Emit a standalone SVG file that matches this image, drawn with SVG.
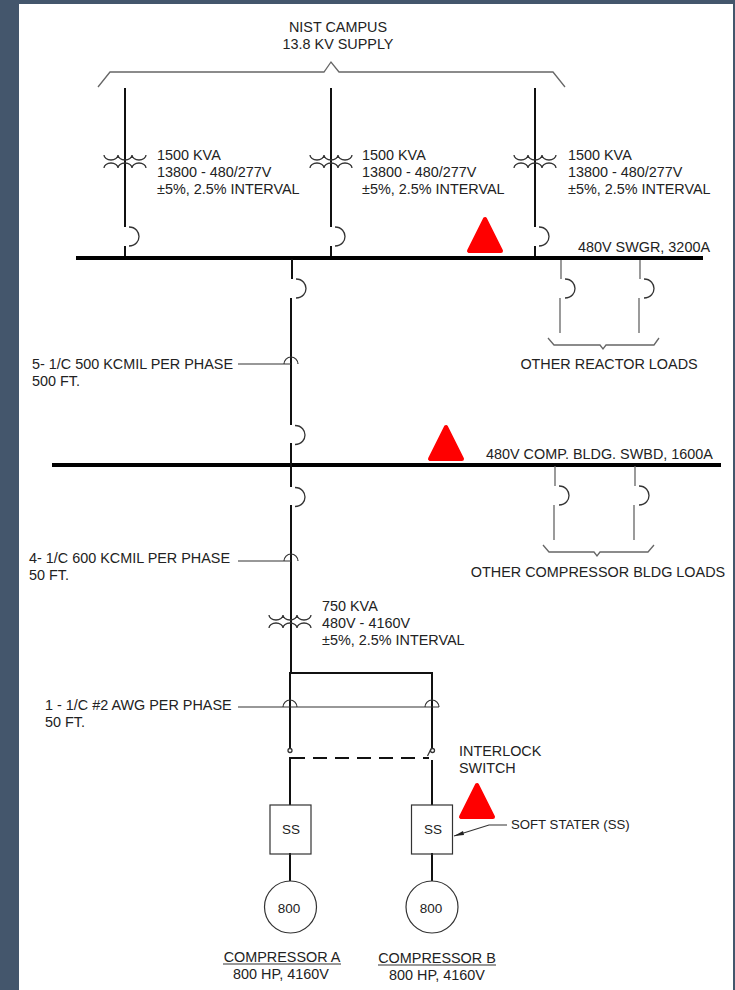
<svg xmlns="http://www.w3.org/2000/svg" width="735" height="990" viewBox="0 0 735 990">
<style>
text{font-family:"Liberation Sans",Arial,sans-serif;font-size:14.400px;fill:#222}
.w{fill:none;stroke:#111;stroke-width:2}
.t{fill:none;stroke:#333;stroke-width:1.300}
.g{fill:none;stroke:#666;stroke-width:1.300}
.bus{stroke:#000;stroke-width:4;fill:none}
.n{fill:none;stroke:#333;stroke-width:1.200}
.tri{fill:#f00;stroke:#f00;stroke-width:4;stroke-linejoin:round}
</style>
<defs>
<g id="xf"><path class="t" d="M-21 155a7 5 0 0 0 14 0a7 5 0 0 0 14 0a7 5 0 0 0 14 0M-21 168a7 5 0 0 1 14 0a7 5 0 0 1 14 0a7 5 0 0 1 14 0"/></g>
<path id="cb" class="t" d="M4-9.500C11-9.500 14-4 14 0S11 9.500 4 9.500"/>
<path id="hop" class="n" d="M-7 0A7 7 0 0 1 7 0"/>
</defs>
<rect width="735" height="990" fill="#44566c"/>
<rect x="19" y="4" width="714" height="986" fill="#fff"/>
<g id="connectors">
<path class="g" d="M98 87L110 72H324L331 62L339 72H553L565 87"/>
<path class="w" d="M125 88V227M125 246V258M331 88V227M331 246V258M535 88V227M535 246V258"/>
<path class="bus" d="M76 258H703M52 465H721"/>
<path class="w" d="M292 259V279M291 298V425M291 443V487M291 505V673M290 673V748M290 757V805M290 853V881"/>
<path class="w" d="M289 673H432V748M432 760V805M432 853V881"/>
<path class="w" stroke-dasharray="14 8" d="M291 758H429"/>
<path class="t" d="M427.500 756L431 749"/>
<circle class="t" cx="290" cy="750.500" r="2"/><circle class="t" cx="432.500" cy="750.500" r="2"/>
<path class="g" d="M561 260V279M560 298V333M640 260V279M639 298V333"/>
<path class="g" d="M548 338L554 345H600L603 349L606 345H654L659 338"/>
<path class="g" d="M555 466V486M554 505V540M635 466V486M634 505V540"/>
<path class="g" d="M543 545L549 552H594L597 556L600 552H648L654 545"/>
<path class="n" d="M238 364H291M238 561H291M238 707H439"/>
<path class="n" d="M454 836L489 825H507"/>
<path fill="#222" d="M454 836L463 831L464 835Z"/>
<g transform="translate(125 236.500)"><use href="#cb"/></g>
<g transform="translate(331 236.500)"><use href="#cb"/></g>
<g transform="translate(535 236.500)"><use href="#cb"/></g>
<g transform="translate(292 288.500)"><use href="#cb"/></g>
<g transform="translate(291 435)"><use href="#cb"/></g>
<g transform="translate(291 497)"><use href="#cb"/></g>
<g transform="translate(561 288.500)"><use href="#cb"/></g>
<g transform="translate(640 288.500)"><use href="#cb"/></g>
<g transform="translate(555 495.500)"><use href="#cb"/></g>
<g transform="translate(635 495.500)"><use href="#cb"/></g>
<use href="#hop" x="291" y="364"/><use href="#hop" x="291" y="561"/><use href="#hop" x="290" y="707"/><use href="#hop" x="432" y="707"/>
</g>
<g id="supply"><text x="338" y="32" text-anchor="middle">NIST CAMPUS</text><text x="338" y="49" text-anchor="middle">13.8 KV SUPPLY</text></g>
<g id="tx1"><use href="#xf" x="125"/><text x="157" y="160">1500 KVA</text><text x="157" y="177">13800 - 480/277V</text><text x="157" y="194">±5%, 2.5% INTERVAL</text></g>
<g id="tx2"><use href="#xf" x="331"/><text x="362" y="160">1500 KVA</text><text x="362" y="177">13800 - 480/277V</text><text x="362" y="194">±5%, 2.5% INTERVAL</text></g>
<g id="tx3"><use href="#xf" x="535"/><text x="568" y="160">1500 KVA</text><text x="568" y="177">13800 - 480/277V</text><text x="568" y="194">±5%, 2.5% INTERVAL</text></g>
<g id="tri1"><path class="tri" d="M485 219L469 251H501Z"/></g>
<g id="swgr"><text x="578" y="252">480V SWGR, 3200A</text></g>
<g id="reactor-loads"><text x="609" y="369" text-anchor="middle">OTHER REACTOR LOADS</text></g>
<g id="cable1"><text x="32" y="369">5- 1/C 500 KCMIL PER PHASE</text><text x="32" y="386">500 FT.</text></g>
<g id="tri2"><path class="tri" d="M446 427L430 459H462Z"/></g>
<g id="swbd"><text x="486" y="459">480V COMP. BLDG. SWBD, 1600A</text></g>
<g id="comp-loads"><text x="598" y="577" text-anchor="middle">OTHER COMPRESSOR BLDG LOADS</text></g>
<g id="cable2"><text x="29" y="563">4- 1/C 600 KCMIL PER PHASE</text><text x="29" y="580">50 FT.</text></g>
<g id="tx4"><use href="#xf" x="290" y="460"/><text x="322" y="611">750 KVA</text><text x="322" y="628">480V - 4160V</text><text x="322" y="645">±5%, 2.5% INTERVAL</text></g>
<g id="cable3"><text x="45" y="710">1 - 1/C #2 AWG PER PHASE</text><text x="45" y="727">50 FT.</text></g>
<g id="interlock"><text x="459" y="756">INTERLOCK</text><text x="459" y="773">SWITCH</text></g>
<g id="ssa"><rect class="n" x="270" y="805" width="41" height="49"/><text x="291" y="834" text-anchor="middle" style="font-size:13.500px">SS</text></g>
<g id="ssb"><rect class="n" x="411.500" y="805" width="41" height="49"/><text x="433" y="834" text-anchor="middle" style="font-size:13.500px">SS</text></g>
<g id="tri3"><path class="tri" d="M477 785L461 817H493Z"/></g>
<g id="ss-label"><text x="511" y="829" style="font-size:13.200px">SOFT STATER (SS)</text></g>
<g id="motora"><circle class="n" cx="290.500" cy="907" r="26"/><text x="289" y="913" text-anchor="middle" style="font-size:13.500px">800</text></g>
<g id="motorb"><circle class="n" cx="432" cy="907" r="26"/><text x="431" y="913" text-anchor="middle" style="font-size:13.500px">800</text></g>
<g id="compa"><text x="282" y="962" text-anchor="middle">COMPRESSOR A</text><path class="n" d="M223 964H341"/><text x="281" y="979" text-anchor="middle">800 HP, 4160V</text></g>
<g id="compb"><text x="437" y="963" text-anchor="middle">COMPRESSOR B</text><path class="n" d="M378 965H496"/><text x="437" y="980" text-anchor="middle">800 HP, 4160V</text></g>
</svg>
